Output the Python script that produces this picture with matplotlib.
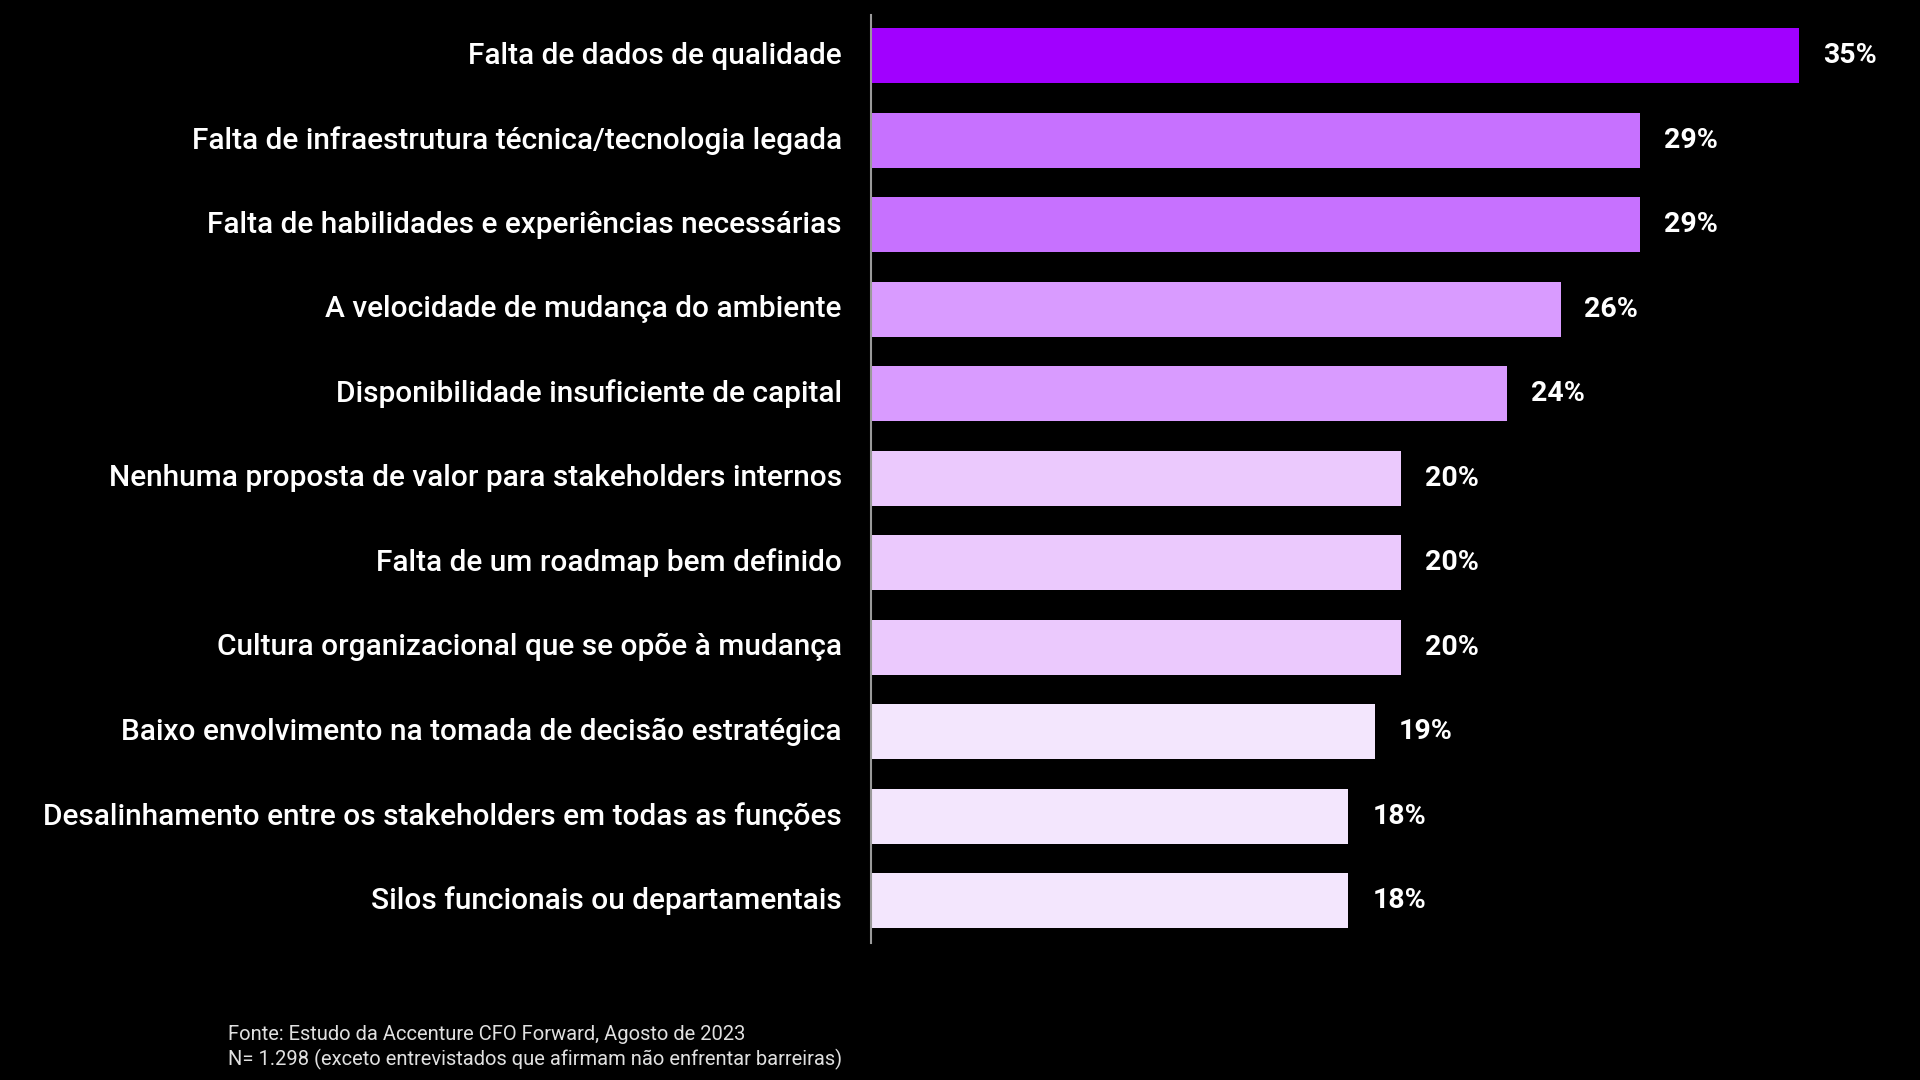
import matplotlib.pyplot as plt

# barreiras (top to bottom)
categories = [
    'Falta de dados de qualidade',
    'Falta de infraestrutura técnica/tecnologia legada',
    'Falta de habilidades e experiências necessárias',
    'A velocidade de mudança do ambiente',
    'Disponibilidade insuficiente de capital',
    'Nenhuma proposta de valor para stakeholders internos',
    'Falta de um roadmap bem definido',
    'Cultura organizacional que se opõe à mudança',
    'Baixo envolvimento na tomada de decisão estratégica',
    'Desalinhamento entre os stakeholders em todas as funções',
    'Silos funcionais ou departamentais',
]
values = [35, 29, 29, 26, 24, 20, 20, 20, 19, 18, 18]
colors = ['#a100ff', '#c771ff', '#c771ff', '#d99bff', '#d99bff',
          '#ebc9fd', '#ebc9fd', '#ebc9fd', '#f3e6fd', '#f3e6fd', '#f3e6fd']

source_lines = [
    'Fonte: Estudo da Accenture CFO Forward, Agosto de 2023',
    'N= 1.298 (exceto entrevistados que afirmam não enfrentar barreiras)',
]

fig = plt.figure(figsize=(19.2, 10.8), dpi=100, facecolor='black')
ax = fig.add_axes([871 / 1920, 0.127, (1900 - 871) / 1920, 0.986 - 0.127])
ax.set_facecolor('black')

y = list(range(len(values)))
ax.barh(y, values, height=0.65, color=colors)
ax.set_ylim(10.5, -0.48)
ax.set_xlim(0, 38.8)

for yi, v in zip(y, values):
    ax.text(v + 0.9, yi, f'{v}%', color='white', fontsize=20.5, fontweight='bold',
            family='Roboto', va='center', ha='left')

# category labels right-aligned next to the axis line
for yi, c in zip(y, categories):
    ax.text(-1.1, yi, c, color='white', fontsize=21.5, fontweight='medium',
            family='Roboto', va='center', ha='right')

ax.set_xticks([])
ax.set_yticks([])
for s in ['top', 'right', 'bottom']:
    ax.spines[s].set_visible(False)
ax.spines['left'].set_color('#9a9a9a')
ax.spines['left'].set_linewidth(1.5)

fig.text(228 / 1920, 1 - 1035 / 1080, source_lines[0], color='#e0e0e0',
         fontsize=14.5, family='Roboto', va='center')
fig.text(228 / 1920, 1 - 1059 / 1080, source_lines[1], color='#e0e0e0',
         fontsize=14.5, family='Roboto', va='center')

fig.savefig('out.png', dpi=100, facecolor='black')
